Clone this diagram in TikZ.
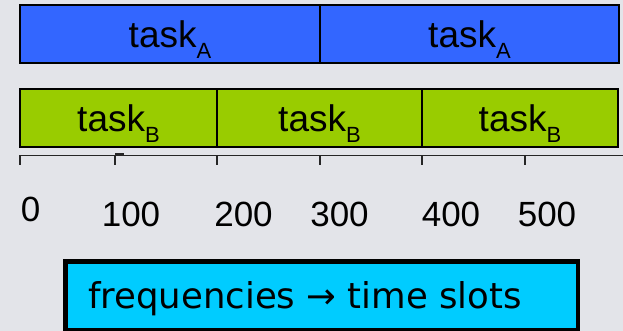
\documentclass[tikz,border=0pt]{standalone}
\usepackage{fontspec}
\setmainfont{Liberation Sans}
\newfontfamily\capfont{DejaVu Sans}
\definecolor{bgcol}{HTML}{E3E4E9}
\definecolor{taskAcol}{HTML}{3366FF}
\definecolor{taskBcol}{HTML}{99CC00}
\definecolor{capcol}{HTML}{00CCFF}
\definecolor{axiscol}{HTML}{262626}
\newcommand{\tasklabel}[1]{task\raisebox{-11pt}[0pt][0pt]{\fontsize{22}{22}\selectfont #1}}
\tikzset{
  seg/.style={draw=black, line width=1.5pt, minimum height=58pt, inner sep=0pt,
    font=\fontsize{37}{37}\selectfont},
  segA/.style={seg, fill=taskAcol},
  segB/.style={seg, fill=taskBcol},
  axisline/.style={draw=axiscol, line width=1.5pt},
  ticklabel/.style={font=\fontsize{35}{35}\selectfont, inner sep=0pt, anchor=base},
  capbox/.style={draw=black, fill=capcol, line width=4.5pt, inner sep=0pt},
  captext/.style={font=\capfont\fontsize{35.5}{35.5}\selectfont, inner sep=0pt, anchor=base west}
}
\begin{document}
\begin{tikzpicture}[x=1pt,y=-1pt]
  \fill[bgcol] (0,0) rectangle (623,331);
  \useasboundingbox (0,0) rectangle (623,331);

  % task A row: two slots of 300
  \node[segA, minimum width=300pt] (a1) at (170,34) {\tasklabel{A}};
  \node[segA, minimum width=299pt] (a2) at (469.5,34) {\tasklabel{A}};

  % task B row: three slots of 200
  \node[segB, minimum width=197pt] (b1) at (118.5,118) {\tasklabel{B}};
  \node[segB, minimum width=205pt] (b2) at (319.5,118) {\tasklabel{B}};
  \node[segB, minimum width=196pt] (b3) at (520,118) {\tasklabel{B}};

  % time axis
  \coordinate (axL) at (20,155.5);
  \coordinate (axR) at (623,155.5);
  \draw[axisline] (axL) -- (axR);
  \foreach \x/\n in {20/t0,115/t1,217/t2,320/t3,422/t4,525/t5}{
    \coordinate (\n) at (\x,155.5);
    \draw[axisline] (\n) -- ++(0,10);
  }
  \draw[draw=axiscol, line width=2pt] (t1) ++(0,-1.5) -- ++(9,0);

  % tick labels
  \node[ticklabel] (l0) at (30.5,221) {0};
  \node[ticklabel] (l1) at (131,226) {100};
  \node[ticklabel] (l2) at (243.5,226) {200};
  \node[ticklabel] (l3) at (339.5,226) {300};
  \node[ticklabel] (l4) at (451,226) {400};
  \node[ticklabel] (l5) at (547,226) {500};

  % caption box
  \node[capbox, minimum width=512.5pt, minimum height=69pt] (cap) at (321.5,296) {};
  \node[captext] (captxt) at (88,308) {frequencies → time slots};
\end{tikzpicture}
\end{document}
